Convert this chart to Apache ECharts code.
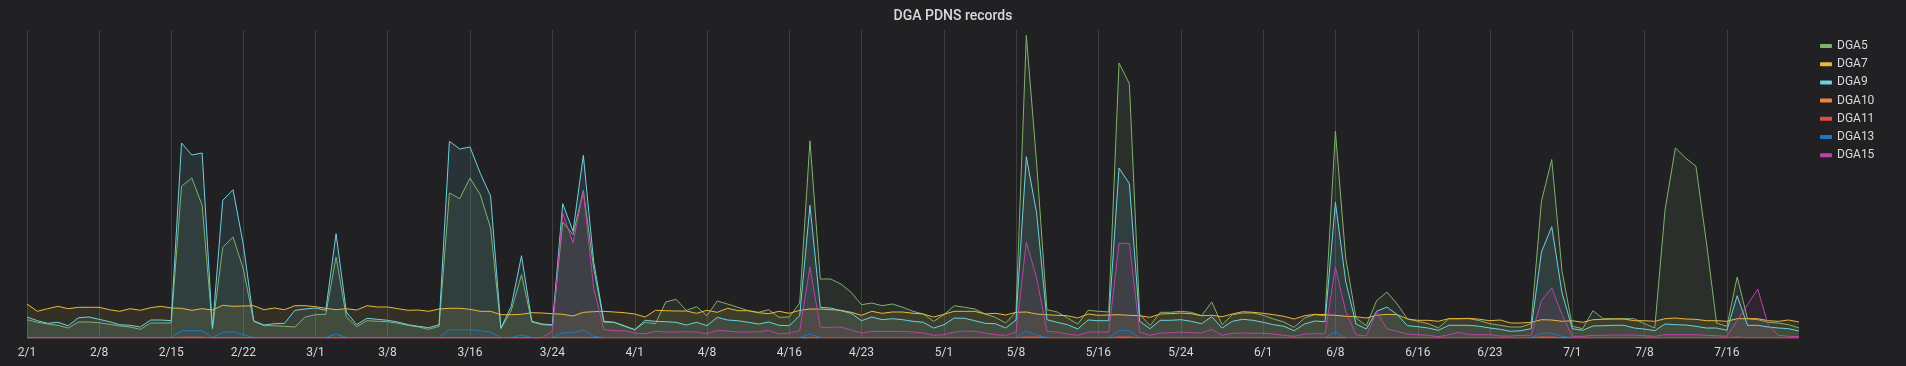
<!DOCTYPE html>
<html>
<head>
<meta charset="utf-8">
<script src="https://cdn.jsdelivr.net/npm/echarts@6/dist/echarts.min.js"></script>
<style>
html,body{margin:0;padding:0;background:#212124;}
#chart{width:1906px;height:366px;}
</style>
</head>
<body>
<div id="chart"></div>
<script>
// Daily categories 2/1 .. 7/23 (173 days)
const startDate = Date.UTC(2019, 1, 1);
const dayCount = 173;
const categories = [];
for (let i = 0; i < dayCount; i++) {
  const d = new Date(startDate + i * 86400000);
  categories.push((d.getUTCMonth() + 1) + '/' + d.getUTCDate());
}
const tickLabels = ['2/1','2/8','2/15','2/22','3/1','3/8','3/16','3/24','4/1','4/8','4/16','4/23','5/1','5/8','5/16','5/24','6/1','6/8','6/16','6/23','7/1','7/8','7/16'];

const dga5 = [
18.3,15.7,14,12.7,10,16,16,15.3,13.7,12,
11,8.7,15,15,15,151.7,160,132.7,9.3,90.7,
101,69,16.7,12.3,12.3,11.7,11,21,23.3,23.7,
81,21,11.3,17.3,16.7,16.3,14.7,12.7,11,8.7,
11.7,145,139.3,160,143.3,110,9.3,27.3,63.3,16,
13.3,12.7,116,103.3,147.7,70,15.7,15.7,12.3,8.3,
15.7,14.3,36,38.7,27.7,31.3,22.3,37,34,30.7,
27.3,25.7,28.3,20.7,21,35,197.3,59,59,54,
45.7,33.3,35,32.3,34,30.7,26.7,24,16.7,23.3,
32.3,30.7,29,24,20.7,15,26,302.7,175,28.3,
26,20,14,27.7,26.7,26,275,254.3,24,12.3,
25.7,25.7,26.7,25.7,22.3,36,13.3,23.3,25,25,
22.7,19,16,10.7,20,23.3,22.3,206.7,80,20,
12.3,37.3,46,34,19,16.7,14.3,10,19.3,19.3,
19.3,17.3,14.3,12.7,11,11,14.3,136.7,178.5,66.7,
11.7,9.3,27.3,19.3,19.3,19.3,19.3,14.3,10,128.3,
190,180,171.7,96.7,15,11.7,61,19.3,18.3,15.7,
15,13.3,10];

const dga7 = [
34,26.7,29.3,31.7,29.3,30.7,30.7,30.7,28.3,26.7,
29.3,27.7,30.3,31.7,30,29.7,27.7,29.3,28,32.7,
31.7,32,32.3,28.3,30,28.3,32.3,32.3,31.3,29.7,
28.3,29.3,28,32.3,31,31,29.3,27.7,28,26.7,
29,29.7,29.7,28.7,26.7,26.7,23.3,23.3,23.7,25.3,
25,24.3,23.7,22,25.7,26.3,26.7,26,25.3,24,
21,27.7,27.3,27,27,24.7,27.7,25.7,29.7,27.3,
27.3,25.3,24.3,26.7,24.7,27.7,29,29,28.3,27.7,
25.7,22.7,26.7,24.7,26,26,24.7,24,21,23.7,
26.7,26.7,26.7,24,24.7,23,25.7,26,24,23.3,
22.7,22.3,20,24,22.7,23,23.3,22.7,22.3,20.7,
24,24.3,25,24.3,22.3,22.7,21.3,24,26.3,25.7,
24.7,23.3,21.7,19,22.3,23.7,23.3,22.7,21.7,21.3,
20,22.7,23.7,23.3,19,17.7,17.7,16.7,19.3,19.3,
19.7,18.7,17.3,18,15,15,15.7,18.3,18,16.7,
17.3,15.7,18.3,18.7,19,19,17.3,17.3,16.7,19.3,
20,19,18.7,17.3,17.3,16.7,19.3,19.3,19.3,17.3,
16.7,18,16];

const dga9 = [
21,17.3,14.7,15.7,12.3,20.3,21,18.7,16.3,13.3,
12.7,11,18,18,17.3,195,183,185,9.3,137.7,
148.3,93.3,17.3,13,14.3,14.7,27.7,29,30,27.7,
104.3,26,13.3,19.7,18.7,17.7,16,13.3,11.7,10.3,
13.3,196.7,189,191,164.7,142,10,31.7,82.3,16.7,
14,13.3,134.3,106.7,182.7,76.7,16.7,15.7,11.7,8.3,
17.7,16.7,16.3,15.7,13,15.7,12.3,20.7,18,17.3,
15.7,14,16,12.7,12.3,22.3,132.7,30.7,30,27.3,
24.7,17.3,21,18.3,19.3,18.3,16.7,15.7,10,13.3,
20,19.7,17.3,14.7,14.3,10,18,181.3,125,18.3,
15.7,13.3,9,18,17.3,17.3,170,154.3,16.7,9.3,
17.7,17.7,18.3,16.7,14.3,21.3,10,16.7,18.7,17.7,
15.7,13.3,11.7,7.3,14,17,16.3,135.7,56.7,14,
9,26.7,31,23.3,12.3,11.3,10,7.7,12.7,12.7,
12.7,11.7,10,8.7,6.7,7.3,9.3,86,111.3,45,
9.3,7.7,12,12.3,12.7,12.7,10,9,7.3,14,
13.3,13,11.7,10,10,7.7,42.3,12.7,12.7,11,
10,9.3,7];

const dga10 = [
0.1,0.1,0.1,0.1,0.1,0.1,0.1,0.1,0.1,0.1,
0.1,0.1,0.1,0.1,0.1,0.1,0.1,0.1,0.1,0.1,
0.1,0.1,0.1,0.1,0.1,0.1,0.1,0.1,0.1,0.1,
0.1,0.1,0.1,0.1,0.1,0.1,0.1,0.1,0.1,0.1,
0.1,0.1,0.1,0.1,0.1,0.1,0.1,0.1,0.1,0.1,
0.1,0.1,0.1,0.1,0.1,0.1,0.1,0.1,0.1,0.1,
0.1,0.1,0.1,0.1,0.1,0.1,0.1,0.1,0.1,0.1,
0.1,0.1,0.1,0.1,0.1,0.1,0.1,0.1,0.1,0.1,
0.1,0.1,0.1,0.1,0.1,0.1,0.1,0.1,0.1,0.1,
0.1,0.1,0.1,0.1,0.1,0.1,0.1,0.1,0.1,0.1,
0.1,0.1,0.1,0.1,0.1,0.1,0.1,0.1,0.1,0.1,
0.1,0.1,0.1,0.1,0.1,0.1,0.1,0.1,0.1,0.1,
0.1,0.1,0.1,0.1,0.1,0.1,0.1,0.1,0.1,0.1,
0.1,0.1,0.1,0.1,0.1,0.1,0.1,0.1,0.1,0.1,
0.1,0.1,0.1,0.1,0.1,0.1,0.1,0.1,0.1,0.1,
0.1,0.1,0.1,0.1,0.1,0.1,0.1,0.1,0.1,0.1,
0.1,0.1,0.1,0.1,0.1,0.1,0.1,0.1,0.1,0.1,
0.1,0.1,0.1];

const dga11 = [
0.2,0.2,0.2,0.2,0.2,0.2,0.2,0.2,0.2,0.2,
0.2,0.2,0.2,0.2,0.2,0.8,0.8,0.8,0.2,0.2,
0.2,0.2,0.2,0.2,0.2,0.2,0.2,0.2,0.2,0.2,
0.2,0.2,0.2,0.2,0.2,0.2,0.2,0.2,0.2,0.2,
0.2,0.2,0.2,0.2,0.2,0.2,0.2,0.2,0.2,0.2,
0.2,0.2,0.5,0.5,0.5,0.2,0.2,0.2,0.2,0.2,
0.2,0.2,0.2,0.2,0.2,0.2,0.2,0.2,0.2,0.2,
0.2,0.2,0.2,0.2,0.2,0.2,0.2,0.2,0.2,0.2,
0.2,0.2,0.2,0.2,0.2,0.2,0.2,0.2,0.2,0.2,
0.2,0.2,0.2,0.2,0.2,0.2,0.2,1,1,0.2,
0.2,0.2,0.2,0.2,0.2,0.2,1,1,0.2,0.2,
0.2,0.2,0.2,0.2,0.2,0.2,0.2,0.2,0.2,0.2,
0.2,0.2,0.2,0.2,0.2,0.2,0.2,0.2,0.2,0.2,
0.2,0.2,0.2,0.2,0.2,0.2,0.2,0.2,0.2,0.2,
0.2,0.2,0.2,0.2,0.2,0.2,0.2,1,1,0.2,
0.2,0.2,0.2,0.2,0.2,0.2,0.2,0.2,0.2,0.2,
0.2,0.2,0.2,0.2,0.2,0.2,1,0.2,0.2,0.2,
0.2,0.2,0.2];

const dga13 = [
0.6,0.6,0.6,0.6,0.6,0.6,0.6,0.6,0.6,0.6,
0.6,0.6,0.6,0.6,0.6,7.3,7.3,7.3,0.6,5.7,
6.3,3.3,0.6,0.6,0.6,0.6,0.6,0.6,0.6,0.6,
4,0.6,0.6,0.6,0.6,0.6,0.6,0.6,0.6,0.6,
0.6,8.3,8.3,8.3,7.3,6,0.6,0.6,3,0.6,
0.6,0.6,5.3,5.3,8,1.7,0.6,0.6,0.6,0.6,
0.6,0.6,0.6,0.6,0.6,0.6,0.6,0.6,0.6,0.6,
0.6,0.6,0.6,0.6,0.6,0.6,4,0.6,0.6,0.6,
0.6,0.6,0.6,0.6,0.6,0.6,0.6,0.6,0.6,0.6,
0.6,0.6,0.6,0.6,0.6,0.6,0.6,7,2.7,0.6,
0.6,0.6,0.6,0.6,0.6,0.6,7.3,7.3,0.6,0.6,
0.6,0.6,0.6,0.6,0.6,0.6,0.6,0.6,0.6,0.6,
0.6,0.6,0.6,0.6,0.6,0.6,0.6,6,0.6,0.6,
0.6,0.6,0.6,0.6,0.6,0.6,0.6,0.6,0.6,0.6,
0.6,0.6,0.6,0.6,0.6,0.6,0.6,4.7,5,1.7,
0.6,0.6,0.6,0.6,0.6,0.6,0.6,0.6,0.6,0.6,
0.6,0.6,0.6,0.6,0.6,0.6,0.6,0.6,0.6,0.6,
0.6,0.6,0.6];

const dga15 = [
0.2,0.2,0.2,0.2,0.2,0.2,0.2,0.2,0.2,0.2,
0.2,0.2,0.2,0.2,0.2,0.2,0.2,0.2,0.2,0.2,
0.2,0.2,0.2,0.2,0.2,0.2,0.2,0.2,0.2,0.2,
0.2,0.2,0.2,0.2,0.2,0.2,0.2,0.2,0.2,0.2,
0.2,0.2,0.2,0.2,0.2,0.2,0.2,0.2,0.2,0.2,
0.2,7.3,125,95,146.7,50,8.3,7.3,7.3,5,
4.3,6.7,6,6,6.3,6,4.3,7.7,7,6,
6,6.3,7.7,4,5,7.3,71,10.7,10.7,11,
8,5,6.7,6.7,6.7,6.7,6,5,2.7,3.3,
6,7,6.7,5,3.3,2.7,6,96,60,6.7,
6,4,2.7,6,6,6,94.7,94.7,6,2.7,
5,5.3,6,5.3,5,8.7,2.7,4.7,5,4.7,
4.7,4,2.7,1.7,4,4.3,4.3,71,26.7,3.3,
2,26,9.3,6.7,4,3.3,2.7,1.3,3.3,5.7,
3.3,3.3,3.3,2,2,2.7,2.7,37.3,50,23.3,
1.7,1.7,2.7,2.7,3,3,3,2.3,1.7,3.3,
3.3,3.3,3.3,2.7,2.3,1.7,17.3,33.3,49,13.3,
2.7,1.7,1.3];

const seriesNames = ['DGA5','DGA7','DGA9','DGA10','DGA11','DGA13','DGA15'];
const seriesData = [dga5, dga7, dga9, dga10, dga11, dga13, dga15];
const seriesColors = ['#7EB26D','#EAB839','#6ED0E0','#EF843C','#E24D42','#1F78C1','#BA43A9'];

const showTick = function (idx, val) { return tickLabels.indexOf(categories[idx]) >= 0; };

const chart = echarts.init(document.getElementById('chart'), null, {renderer: 'canvas'});
chart.setOption({
  backgroundColor: '#212124',
  animation: false,
  title: {
    text: 'DGA PDNS records',
    left: 'center',
    top: 4,
    textStyle: {color: '#d8d9da', fontSize: 14, fontWeight: 500, fontFamily: 'Roboto'}
  },
  legend: {
    orient: 'vertical',
    left: 1815,
    top: 34,
    itemWidth: 12,
    itemHeight: 4,
    itemGap: 4.2,
    itemTextGap: 4,
    icon: 'roundRect',
    textStyle: {color: '#d8d9da', fontSize: 12, lineHeight: 14, fontFamily: 'Roboto'},
    data: seriesNames
  },
  grid: {left: 27, right: 107, top: 30, bottom: 28, containLabel: false},
  xAxis: {
    type: 'category',
    boundaryGap: false,
    data: categories,
    axisLine: {show: false},
    axisTick: {show: false},
    axisLabel: {
      interval: showTick,
      color: '#d8d9da',
      fontSize: 12,
      fontFamily: 'Roboto',
      margin: 9
    },
    splitLine: {
      show: true,
      interval: showTick,
      lineStyle: {color: '#3e3e42', width: 1}
    }
  },
  yAxis: {
    type: 'value',
    min: 0,
    max: 308,
    show: false,
    splitLine: {show: false}
  },
  series: seriesNames.map(function (name, k) {
    return {
      name: name,
      type: 'line',
      data: seriesData[k],
      symbol: 'none',
      showSymbol: false,
      lineStyle: {width: 1, color: seriesColors[k]},
      itemStyle: {color: seriesColors[k]},
      areaStyle: {color: seriesColors[k], opacity: 0.1}
    };
  })
});
</script>
</body>
</html>
